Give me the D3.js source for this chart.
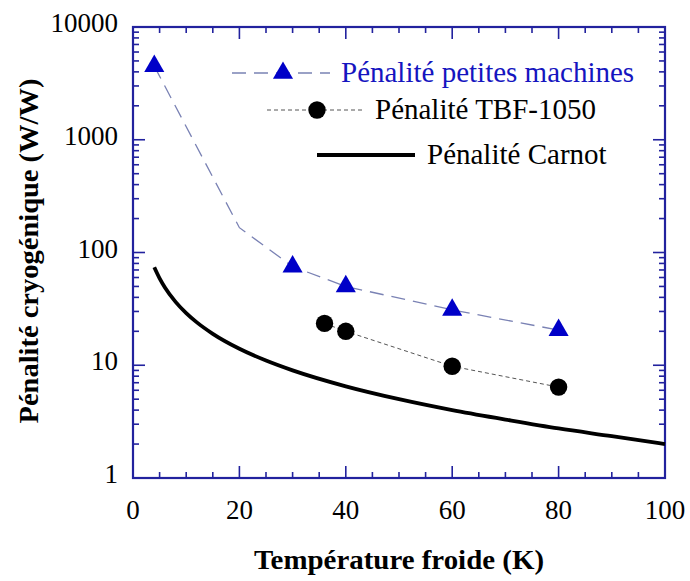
<!DOCTYPE html>
<html>
<head>
<meta charset="utf-8">
<script src="https://cdn.jsdelivr.net/npm/d3@7"></script>
<style>
    body { margin: 0; background: #fff; }
    svg text { font-family: "Liberation Serif", "Times New Roman", serif; }
</style>
</head>
<body>
<div id="chart"></div>
<script>
// data
const smallTemps = [4, 30, 40, 60, 80];
const smallPenalty = [4500, 75, 50, 31, 20.5];
// dashed line for small machines also bends at 20 K (no marker there)
const smallLineTemps = [4, 20, 30, 40, 60, 80];
const smallLineValues = [4500, 166, 75, 50, 31, 20.5];

const tbfTemps = [36, 40, 60, 80];
const tbfPenalty = [23.5, 20, 9.8, 6.4];

const carnotTemps = [4, 5, 6, 8, 10, 12, 15, 20, 25, 30, 40, 50, 60, 70, 80, 90, 100];
const carnotPenalty = [74, 59, 49, 36.5, 29, 24, 19, 14, 11, 9, 6.5, 5, 4, 3.3, 2.75, 2.35, 2];

const xTicks = [0, 20, 40, 60, 80, 100];
const yTicks = [1, 10, 100, 1000, 10000];

const legendLabels = ["Pénalité petites machines", "Pénalité TBF-1050", "Pénalité Carnot"];

const width = 690, height = 581;
const margin = { top: 27, right: 25, bottom: 103, left: 133 };
const w = width - margin.left - margin.right;
const h = height - margin.top - margin.bottom;

const frameColor = "#22229e";
const markerBlue = "#0000c8";
const dashBlue = "#7a82b4";

const svg = d3.select("#chart")
    .append("svg")
    .attr("width", width)
    .attr("height", height);

const g = svg.append("g")
    .attr("transform", `translate(${margin.left},${margin.top})`);

const x = d3.scaleLinear().domain([0, 100]).range([0, w]);
const y = d3.scaleLog().domain([1, 10000]).range([h, 0]);

// ticks inward on all four sides
const xMinor = d3.range(0, 101, 5);
const yMinor = [];
for (let p = 0; p < 4; p++) for (let k = 2; k <= 9; k++) yMinor.push(k * Math.pow(10, p));

const tickG = g.append("g").attr("stroke", frameColor).attr("stroke-width", 1.6);

xMinor.forEach(v => {
    const len = v % 20 === 0 ? 12 : 6;
    tickG.append("line").attr("x1", x(v)).attr("x2", x(v)).attr("y1", h).attr("y2", h - len);
    tickG.append("line").attr("x1", x(v)).attr("x2", x(v)).attr("y1", 0).attr("y2", len);
});
yTicks.concat(yMinor).forEach(v => {
    const len = yTicks.includes(v) ? 12 : 6;
    tickG.append("line").attr("x1", 0).attr("x2", len).attr("y1", y(v)).attr("y2", y(v));
    tickG.append("line").attr("x1", w).attr("x2", w - len).attr("y1", y(v)).attr("y2", y(v));
});

// frame
g.append("rect")
    .attr("width", w).attr("height", h)
    .attr("fill", "none")
    .attr("stroke", frameColor)
    .attr("stroke-width", 2.2);

// tick labels
g.selectAll(".xlab")
    .data(xTicks)
    .enter().append("text")
    .attr("x", d => x(d))
    .attr("y", h + 41)
    .attr("text-anchor", "middle")
    .attr("font-size", 27)
    .text(d => d);

g.selectAll(".ylab")
    .data(yTicks)
    .enter().append("text")
    .attr("x", -15)
    .attr("y", d => y(d) + 5)
    .attr("text-anchor", "end")
    .attr("font-size", 27)
    .text(d => d);

// axis titles
svg.append("text")
    .attr("x", margin.left + w / 2)
    .attr("y", 569)
    .attr("text-anchor", "middle")
    .attr("font-size", 28)
    .attr("font-weight", "bold")
    .attr("textLength", 290)
    .attr("lengthAdjust", "spacingAndGlyphs")
    .text("Température froide (K)");

svg.append("text")
    .attr("transform", "translate(38,251) rotate(-90)")
    .attr("text-anchor", "middle")
    .attr("font-size", 28)
    .attr("font-weight", "bold")
    .attr("textLength", 345)
    .attr("lengthAdjust", "spacingAndGlyphs")
    .text("Pénalité cryogénique (W/W)");

// Carnot curve
g.append("path")
    .datum(carnotTemps.map((t, i) => [t, carnotPenalty[i]]))
    .attr("fill", "none")
    .attr("stroke", "#000")
    .attr("stroke-width", 3.8)
    .attr("d", d3.line()
        .curve(d3.curveMonotoneX)
        .x(d => x(d[0]))
        .y(d => y(d[1])));

// small machines dashed line + triangles
g.append("path")
    .datum(smallLineTemps.map((t, i) => [t, smallLineValues[i]]))
    .attr("fill", "none")
    .attr("stroke", dashBlue)
    .attr("stroke-width", 1.3)
    .attr("stroke-dasharray", "14,8")
    .attr("d", d3.line()
        .x(d => x(d[0]))
        .y(d => y(d[1])));

const tri = d3.symbol().type(d3.symbolTriangle).size(175);
g.selectAll(".tri")
    .data(smallTemps.map((t, i) => [t, smallPenalty[i]]))
    .enter().append("path")
    .attr("transform", d => `translate(${x(d[0])},${y(d[1])})`)
    .attr("d", tri)
    .attr("fill", markerBlue);

// TBF-1050 dotted line + circles
g.append("path")
    .datum(tbfTemps.map((t, i) => [t, tbfPenalty[i]]))
    .attr("fill", "none")
    .attr("stroke", "#555")
    .attr("stroke-width", 1)
    .attr("stroke-dasharray", "4,3")
    .attr("d", d3.line()
        .x(d => x(d[0]))
        .y(d => y(d[1])));

g.selectAll(".dot")
    .data(tbfTemps.map((t, i) => [t, tbfPenalty[i]]))
    .enter().append("circle")
    .attr("cx", d => x(d[0]))
    .attr("cy", d => y(d[1]))
    .attr("r", 8.7)
    .attr("fill", "#000");

// legend
const leg = svg.append("g");

leg.append("line")
    .attr("x1", 232).attr("x2", 330).attr("y1", 73).attr("y2", 73)
    .attr("stroke", dashBlue).attr("stroke-width", 1.3)
    .attr("stroke-dasharray", "14,8");
leg.append("path")
    .attr("transform", "translate(283,73)")
    .attr("d", tri)
    .attr("fill", markerBlue);
leg.append("text")
    .attr("x", 341).attr("y", 82)
    .attr("font-size", 29)
    .attr("fill", "#1515c0")
    .text(legendLabels[0]);

leg.append("line")
    .attr("x1", 267).attr("x2", 365).attr("y1", 110).attr("y2", 110)
    .attr("stroke", "#555").attr("stroke-width", 1)
    .attr("stroke-dasharray", "4,3");
leg.append("circle")
    .attr("cx", 317).attr("cy", 110).attr("r", 8.7)
    .attr("fill", "#000");
leg.append("text")
    .attr("x", 375).attr("y", 119)
    .attr("font-size", 29)
    .text(legendLabels[1]);

leg.append("line")
    .attr("x1", 317).attr("x2", 415).attr("y1", 155).attr("y2", 155)
    .attr("stroke", "#000").attr("stroke-width", 3.8);
leg.append("text")
    .attr("x", 427).attr("y", 164)
    .attr("font-size", 29)
    .text(legendLabels[2]);
</script>
</body>
</html>
